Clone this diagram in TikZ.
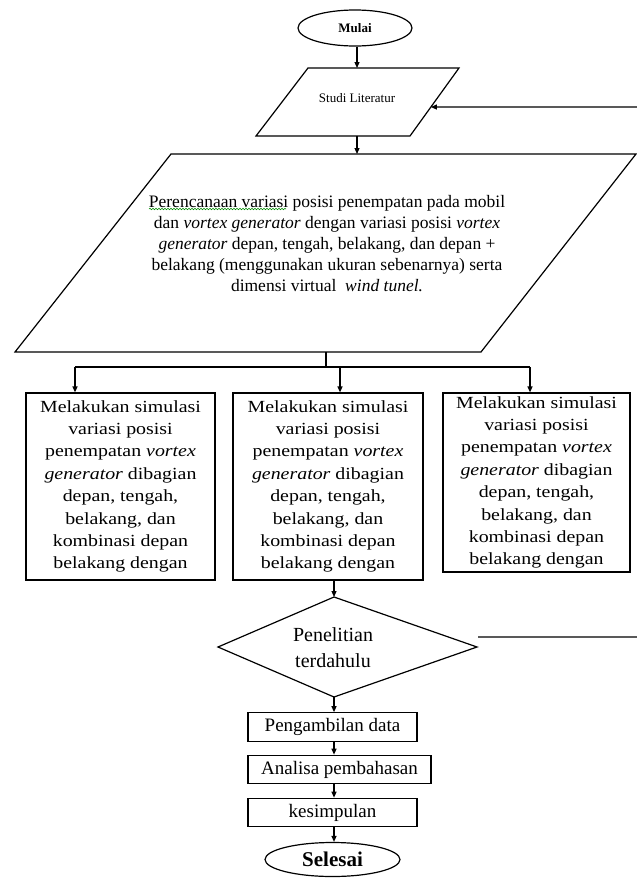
\documentclass[tikz,border=0pt]{standalone}
\usepackage{fontspec}
\setmainfont{Liberation Serif}
\newfontfamily\widefont[FakeStretch=1.17]{Liberation Serif}
\usetikzlibrary{arrows.meta,calc,shapes.geometric,decorations.pathmorphing}
\begin{document}
\begin{tikzpicture}[x=1pt,y=1pt,
  line width=1.2pt,
  arr/.style={-{Triangle[length=6pt,width=5pt]}},
  boxtext/.style={align=center, inner sep=0pt, font=\widefont\fontsize{17}{22.4}\selectfont},
  simbox/.style={draw, boxtext, minimum width=189pt, minimum height=187pt},
  smallbox/.style={draw, align=center, inner sep=0pt, minimum height=28.5pt, font=\fontsize{19}{22}\selectfont},
  term/.style={ellipse, draw, inner sep=0pt}]
\useasboundingbox (0,0) rectangle (637,-878);
\clip (0,0) rectangle (637,-878);
\fill[white] (0,0) rectangle (637,-878);

% Mulai
\node[term, minimum width=114pt, minimum height=36pt, font=\fontsize{13}{15}\selectfont\bfseries] (mulai) at (355,-28) {Mulai};

% Studi Literatur
\coordinate (sTL) at (308,-68);
\coordinate (sTR) at (459,-68);
\coordinate (sBR) at (410,-136);
\coordinate (sBL) at (256,-136);
\draw (sTL) -- (sTR) -- (sBR) -- (sBL) -- cycle;
\node[font=\fontsize{13}{15}\selectfont] (studi) at (357,-98) {Studi Literatur};
\coordinate (sTop) at (357,-68);
\coordinate (sBot) at (357,-136);
\draw[arr] (mulai.south -| sTop) -- (sTop);

% Perencanaan
\coordinate (bTL) at (171,-154);
\coordinate (bTR) at (636,-154);
\coordinate (bBR) at (481,-352);
\coordinate (bBL) at (15,-352);
\draw (bTL) -- (bTR) -- (bBR) -- (bBL) -- cycle;
\coordinate (bTop) at (357,-154);
\draw[arr] (sBot) -- (bTop);
\node[align=center, inner sep=0pt, font=\fontsize{17.5}{21}\selectfont] (plan) at (327,-244)
{Perencanaan variasi posisi penempatan pada mobil\\
dan \textit{vortex generator} dengan variasi posisi \textit{vortex}\\
\textit{generator} depan, tengah, belakang, dan depan +\\
belakang (menggunakan ukuran sebenarnya) serta\\
dimensi virtual \ \textit{wind tunel.}};
\coordinate (wv1) at (149,-209);
\coordinate (wv2) at (286,-209);
\draw[green!55!black, line width=0.6pt, decorate, decoration={snake, amplitude=0.7pt, segment length=3pt}] (wv1) -- (wv2);

% three simulation boxes
\node[simbox] (b1) at (120.5,-486.5) {Melakukan simulasi\\variasi posisi\\penempatan \textit{vortex}\\\textit{generator} dibagian\\depan, tengah,\\belakang, dan\\kombinasi depan\\belakang dengan};
\node[simbox, minimum width=190pt] (b2) at (328,-486.5) {Melakukan simulasi\\variasi posisi\\penempatan \textit{vortex}\\\textit{generator} dibagian\\depan, tengah,\\belakang, dan\\kombinasi depan\\belakang dengan};
\node[simbox, minimum width=187pt, minimum height=179pt] (b3) at (536.5,-482.5) {Melakukan simulasi\\variasi posisi\\penempatan \textit{vortex}\\\textit{generator} dibagian\\depan, tengah,\\belakang, dan\\kombinasi depan\\belakang dengan};

% distribution
\coordinate (bBot) at (326,-352);
\coordinate (jc) at (326,-367);
\coordinate (jl) at (75,-367);
\coordinate (jm) at (340,-367);
\coordinate (jr) at (530,-367);
\draw (bBot) -- (jc);
\draw (jl) -- (jr);
\draw[arr] (jl) -- (jl |- b1.north);
\draw[arr] (jm) -- (jm |- b2.north);
\draw[arr] (jr) -- (jr |- b3.north);

% decision
\coordinate (dT) at (334,-597);
\coordinate (dR) at (477,-647);
\coordinate (dB) at (334,-697);
\coordinate (dL) at (218,-647);
\draw (dT) -- (dR) -- (dB) -- (dL) -- cycle;
\node[align=center, inner sep=0pt, font=\fontsize{20}{26}\selectfont] (pen) at (333,-648) {Penelitian\\terdahulu};
\draw[arr] (b2.south -| dT) -- (dT);

% feedback loop
\coordinate (fb) at (478,-637);
\coordinate (fbR) at (648,-637);
\coordinate (fbT) at (648,-107);
\coordinate (sIn) at ($(sTR)!0.574!(sBR)$);
\draw[arr] (fb) -- (fbR) -- (fbT) -- (sIn);

% lower chain
\node[smallbox, minimum width=169pt] (p1) at (332.5,-727) {Pengambilan data};
\node[smallbox, minimum width=183pt] (p2) at (339.5,-769.5) {Analisa pembahasan};
\node[smallbox, minimum width=169pt] (p3) at (332.5,-812.5) {kesimpulan};
\node[term, minimum width=135pt, minimum height=34pt, font=\fontsize{21}{24}\selectfont\bfseries] (sel) at (332.5,-859.5) {Selesai};

\draw[arr] (dB) -- (dB |- p1.north);
\draw[arr] (p1.south -| dB) -- (p2.north -| dB);
\draw[arr] (p2.south -| dB) -- (p3.north -| dB);
\draw[arr] (p3.south -| dB) -- (sel.north -| dB);
\end{tikzpicture}
\end{document}
